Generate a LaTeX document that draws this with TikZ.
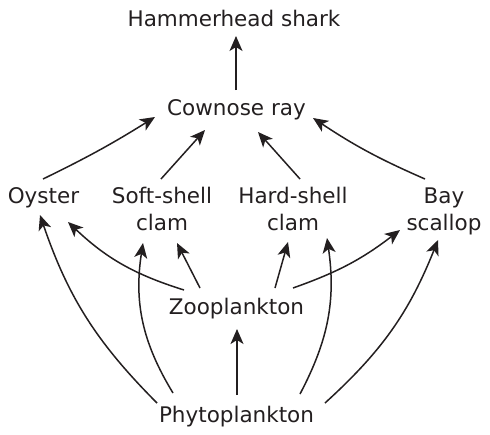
\documentclass[tikz,border=0pt]{standalone}
\usepackage{fontspec}
\setmainfont{DejaVu Sans}
\usetikzlibrary{arrows.meta}
\begin{document}
\begin{tikzpicture}[x=1pt,y=1pt,
  lbl/.style={inner sep=0pt,anchor=base,font=\fontsize{21.5}{27}\selectfont},
  arr/.style={line width=1.5pt,draw={rgb,255:red,35;green,31;blue,32},-{Stealth[length=15pt,width=13pt,inset=4pt]}},
  every node/.style={text={rgb,255:red,35;green,31;blue,32}}]
\useasboundingbox (0,0) rectangle (490,-434);
\newcommand{\twol}[2]{\begin{tabular}[t]{@{}c@{}}#1\\#2\end{tabular}}
\node[lbl] (hs) at (234,-26) {Hammerhead shark};
\node[lbl] (cr) at (236.5,-115) {Cownose ray};
\node[lbl] (oy) at (43.5,-203) {Oyster};
\node[lbl] (ss) at (162,-203) {\twol{Soft-shell}{clam}};
\node[lbl] (hc) at (293,-203) {\twol{Hard-shell}{clam}};
\node[lbl] (bs) at (444,-203) {\twol{Bay}{scallop}};
\node[lbl] (zoo) at (236.5,-314) {Zooplankton};
\node[lbl] (phy) at (236.5,-422) {Phytoplankton};
% to hammerhead
\draw[arr] ([shift={(-0.5,25)}]cr.base) -- ([shift={(2,-10)}]hs.base);
% to cownose
\draw[arr] ([shift={(-0.5,24)}]oy.base) to[bend right=3] ([shift={(-81.5,-2)}]cr.base);
\draw[arr] ([shift={(-1,24)}]ss.base) -- ([shift={(-31.5,-15)}]cr.base);
\draw[arr] ([shift={(7,24)}]hc.base) -- ([shift={(21.5,-17)}]cr.base);
\draw[arr] ([shift={(-19,24)}]bs.base) to[bend left=5] ([shift={(76.5,-3)}]cr.base);
% from zooplankton
\draw[arr] ([shift={(-52.5,24)}]zoo.base) to[bend left=13] ([shift={(24.5,-19)}]oy.base);
\draw[arr] ([shift={(-36.5,26)}]zoo.base) -- ([shift={(15,-40)}]ss.base);
\draw[arr] ([shift={(38.5,26)}]zoo.base) -- ([shift={(-5,-39)}]hc.base);
\draw[arr] ([shift={(56.5,26)}]zoo.base) to[bend right=9] ([shift={(-44,-27)}]bs.base);
% from phytoplankton
\draw[arr] ([shift={(-79.5,19)}]phy.base) to[bend left=13] ([shift={(-3.5,-12)}]oy.base);
\draw[arr] ([shift={(-63.5,29)}]phy.base) to[bend left=20] ([shift={(-19,-40)}]ss.base);
\draw[arr] ([shift={(0.5,27)}]phy.base) -- ([shift={(0.5,-15)}]zoo.base);
\draw[arr] ([shift={(63.5,28)}]phy.base) to[bend right=18] ([shift={(34,-35)}]hc.base);
\draw[arr] ([shift={(88.5,19)}]phy.base) to[bend right=13] ([shift={(-6,-37)}]bs.base);
\end{tikzpicture}
\end{document}
